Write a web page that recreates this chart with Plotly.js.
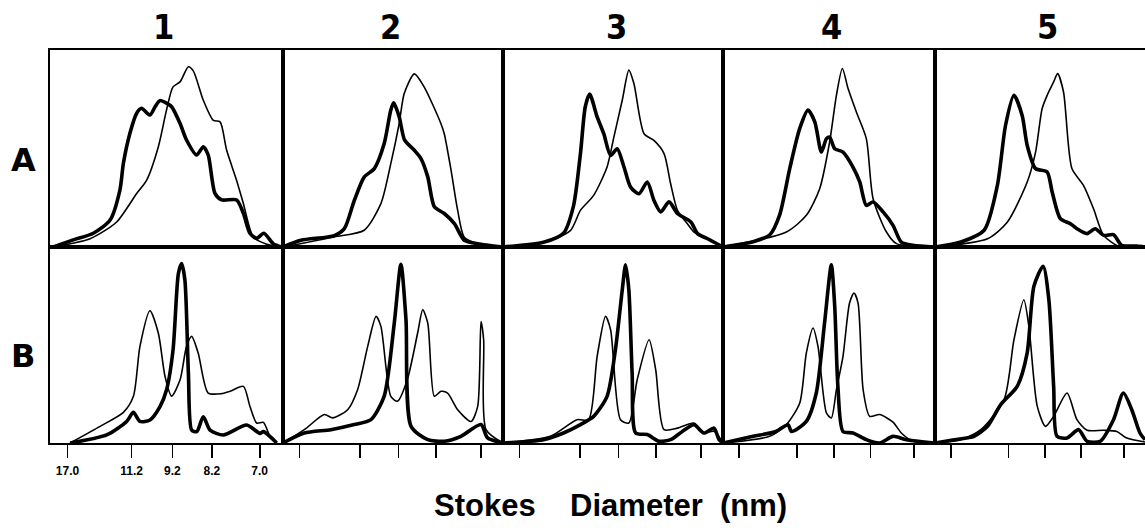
<!DOCTYPE html>
<html>
<head>
<meta charset="utf-8">
<script src="https://cdn.plot.ly/plotly-3.0.1.min.js"></script>
<style>
  html, body { margin: 0; padding: 0; background: #fff; }
  #chart { width: 1145px; height: 528px; }
</style>
</head>
<body>
<div id="chart"></div>
<script>
// Column and row labels
const columnLabels = ['1', '2', '3', '4', '5'];
const rowLabels = ['A', 'B'];
// Stokes diameter tick labels (nm), shown under the first panel; positions are migration distance (% of panel width)
const tickLabels = ['17.0', '11.2', '9.2', '8.2', '7.0'];
const tickPositions = [7.5, 35, 52.5, 69.5, 90];
const xTitle = 'Stokes\u00A0\u00A0\u00A0\u00A0Diameter\u00A0\u00A0(nm)';

// ---- Row A ----
const A1_thick_x = [1.4, 10, 18.6, 25.8, 30, 31.5, 34.3, 37.2, 39.3, 42.9, 45.1, 47.2, 50, 52.2, 55.8, 58.6, 62.9, 65.8, 67.9, 70.8, 73.7, 80.1, 83, 85.8, 88.7, 91.8, 95.8, 99.4];
const A1_thick_y = [0, 3.6, 7, 13.7, 28.9, 42.5, 57.7, 67.9, 70.4, 67, 71.2, 74.3, 73, 71.2, 62.8, 54.3, 46.7, 50.9, 46.7, 27.2, 23.9, 23.9, 17.1, 7, 4.4, 7, 1.7, 0];
const A1_thin_x = [1.4, 17.2, 28.6, 37.2, 41.5, 46.5, 50, 52.8, 55.8, 59.4, 61.5, 65.8, 70.1, 73, 75.8, 80.1, 83, 87.3, 93, 99.4];
const A1_thin_y = [0, 4.2, 12.7, 27.2, 34, 50.9, 69.5, 81.3, 83.8, 91.5, 89.4, 74.5, 64.3, 63.5, 49.2, 33.8, 22, 5, 1.4, 0];

const A2_thick_x = [0, 8.2, 23.3, 27.9, 32.4, 36.9, 41.5, 46, 49, 50.3, 52.8, 55.3, 59.7, 62.7, 65.8, 68.8, 73.3, 77.9, 82.4, 88.5, 100];
const A2_thick_y = [0, 3.4, 5.8, 9.3, 23.6, 35.5, 39.8, 52.5, 69.5, 73.2, 66.2, 54.2, 49.1, 44.9, 35.6, 20.4, 17, 11.9, 3.4, 1.7, 0];
const A2_thin_x = [0, 23.3, 36.9, 44.5, 49, 52.8, 55.1, 59.7, 64.2, 71.8, 73.3, 76.4, 79.4, 82.4, 88.5, 100];
const A2_thin_y = [0, 5.1, 8.5, 22, 42.3, 62.6, 77.9, 87.9, 81.2, 62.6, 57.5, 38.9, 18.6, 5, 1.7, 0];

const A3_thick_x = [0, 18.4, 27.5, 32, 35.2, 37.4, 39.4, 42.8, 45.8, 48.9, 51.9, 55, 58, 61.8, 65.6, 68.6, 71.7, 75.5, 79.3, 85.4, 88.4, 93, 100];
const A3_thick_y = [0, 2.4, 7, 20.6, 47.4, 71.2, 77.6, 66, 57.5, 46.5, 49.9, 40.6, 30.4, 27, 33, 23.7, 17.8, 22.9, 17, 12.7, 6.8, 4.2, 0];
const A3_thin_x = [0, 18.4, 30.6, 35.2, 41.2, 47.3, 50.4, 54.2, 57.2, 59.5, 64.1, 68.6, 73.2, 76.2, 79.3, 83.8, 86.8, 93, 100];
const A3_thin_y = [0, 2.4, 8.3, 18.6, 26.2, 40.6, 55.8, 74.5, 89.8, 83, 57.5, 54.1, 47.4, 32.1, 18.6, 11.8, 7.6, 4.2, 0];

const A4_thick_x = [0, 14.2, 22, 26.7, 31.5, 36.2, 40.1, 43.3, 46.4, 48.8, 50.3, 52.7, 56.6, 61.3, 64.5, 67.6, 70.8, 75.5, 80.2, 84.1, 89.6, 100];
const A4_thick_y = [0, 2.7, 6.1, 16.2, 39.9, 60.2, 69.5, 63.5, 48.2, 55, 55.8, 49.9, 48.2, 40.6, 33, 21.1, 22.8, 17.8, 11, 2.5, 0.9, 0];
const A4_thin_x = [0, 29.9, 39.3, 45.6, 50.3, 53.5, 56.3, 59, 62.9, 67.6, 70.8, 77.1, 81.8, 100];
const A4_thin_y = [0, 7.6, 16.1, 29.6, 53.3, 77, 90.6, 80.4, 68.5, 55, 24.5, 7.6, 1.7, 0];

const A5_thick_x = [0, 12.3, 23.4, 29.7, 33.6, 37.6, 41.5, 43.9, 47.9, 53.4, 55.8, 59.7, 64.5, 67.6, 72.4, 76.3, 80.3, 85, 88.9, 96.1, 100];
const A5_thick_y = [0, 2.5, 8.5, 31.3, 61.8, 77, 66.8, 51.6, 39.8, 38.1, 27.9, 14.4, 11.8, 9.3, 6.8, 9.3, 5.9, 6.3, 0.8, 0.5, 0];
const A5_thin_x = [0, 25, 34.5, 43.9, 47.9, 51, 53.4, 56.5, 58.4, 61.2, 65.2, 70.7, 75.5, 80.3, 88.2, 100];
const A5_thin_y = [0, 4.2, 12.7, 33, 48.2, 70.2, 77, 83.8, 88, 78.7, 39.8, 31.3, 19.4, 5.9, 0, 0];

// ---- Row B ----
const B1_thick_x = [8.6, 24.3, 32.9, 35.8, 38.6, 42.9, 47.2, 50, 52.8, 55.1, 56.5, 57.9, 59.4, 60.8, 63, 65.8, 68.7, 74.4, 84.4, 90.1, 91.6, 97.3];
const B1_thick_y = [0, 4.1, 11, 15.6, 11, 11.7, 18.5, 27, 47.4, 86.4, 91.5, 83, 35.5, 6.6, 5.8, 13.4, 6.6, 4.1, 9.2, 4.9, 5.8, 0];
const B1_thin_x = [8.6, 21.5, 31.5, 35.8, 38.6, 42.9, 46.5, 49.4, 52.2, 55.8, 58.6, 60.8, 63.6, 67.9, 73.6, 77.3, 83, 85.8, 88.7, 91.6, 94.4, 97.3];
const B1_thin_y = [0, 8.5, 15.6, 23.8, 49.3, 67.5, 56, 33.8, 23.9, 32.1, 49.3, 54.4, 45.9, 25.5, 25.2, 26.4, 28.9, 18.7, 10.2, 10.5, 3.4, 0];

const B2_thick_x = [0, 9.7, 21.8, 32.4, 40, 46, 50.6, 53.6, 55.9, 58.2, 65.8, 73.3, 80.9, 90, 93, 100];
const B2_thick_y = [0, 5.1, 6.8, 9.4, 11.9, 23.9, 61.4, 91.2, 63, 8.5, 1.7, 0.9, 3.4, 9.4, 2.6, 0];
const B2_thin_x = [0, 9.7, 18.8, 22.6, 29.4, 33.9, 38.5, 42.3, 44.5, 49, 52, 56.5, 61.2, 63.5, 65.8, 68.8, 71.8, 74.8, 79.4, 85.5, 88.5, 90, 91.2, 92.3, 100];
const B2_thin_y = [0, 6.8, 14.5, 12.8, 17, 27.2, 49.3, 64.6, 59.5, 23.8, 21.3, 32.3, 56.1, 68, 61.2, 23.8, 26.4, 25.5, 17, 11, 18.7, 62, 52.7, 6.8, 0];

const B3_thick_x = [0, 18.4, 27.5, 35.2, 41.2, 47.3, 51.1, 54.2, 55.7, 57.2, 58.7, 60.3, 65.6, 70.9, 76.2, 81.5, 86.8, 91.3, 95.9, 98.2, 100];
const B3_thick_y = [0, 1.7, 5.1, 9.4, 13.6, 23.8, 47.6, 78.1, 90.9, 78.1, 35.6, 5.1, 4.3, 0.9, 1.7, 5.9, 9.3, 5.1, 7.6, 1.7, 0];
const B3_thin_x = [0, 21.5, 33.6, 38.9, 42.8, 46.6, 48.9, 53.4, 57.2, 61, 66.4, 69.4, 73.2, 79.3, 86.8, 91.3, 95.9, 100];
const B3_thin_y = [0, 3.4, 11.9, 11.9, 44.2, 64.6, 57.8, 11.9, 10.2, 32.3, 52.7, 37.4, 6.8, 7.6, 10.2, 5.1, 6, 0];

const B4_thick_x = [0, 14.2, 25, 30.7, 32.3, 39.3, 44, 47.9, 51.1, 52.7, 54.2, 56.6, 61.3, 67.6, 73.9, 80.2, 86.5, 100];
const B4_thick_y = [0, 3.4, 5.9, 9.3, 5.9, 11, 25.5, 61.2, 90.9, 69.7, 28.9, 5.9, 5.1, 1.7, 0, 3.4, 1.7, 0];
const B4_thin_x = [0, 22, 29.9, 36.2, 39.3, 42.5, 44.8, 48.8, 51.1, 53.5, 56.6, 59.7, 61.8, 63.7, 66.1, 69.2, 73.9, 80.2, 84.1, 89.6, 100];
const B4_thin_y = [0, 3.4, 9.4, 20.4, 45.9, 58.7, 49.3, 15.3, 12.8, 27.2, 44.2, 71.4, 76.5, 71.4, 27.2, 13.6, 14.5, 10.6, 5.1, 0.9, 0];

const B5_thick_x = [0, 9.2, 18.6, 25, 31.3, 39.2, 43.9, 47.1, 51.5, 54.2, 56.5, 58.1, 62.9, 68.4, 72.4, 78.7, 85, 89.7, 93.7, 97.6, 100];
const B5_thick_y = [0, 1.7, 3.4, 8.5, 19.6, 29, 46, 80, 90.2, 73.3, 28.9, 3.4, 2.6, 6.8, 0.9, 0.9, 11.9, 25.5, 17, 5.1, 1.7];
const B5_thin_x = [0, 12.3, 21.8, 32.9, 37.6, 42.3, 44.7, 48.7, 52.6, 56.5, 62.9, 67.6, 72.4, 80.3, 86.6, 91.3, 100];
const B5_thin_y = [0, 1.7, 6.8, 22.1, 52.7, 73.1, 59.5, 18.7, 8.5, 13.6, 25.5, 11.9, 6.5, 6.5, 5.9, 2.5, 0.5];

const panels = [
  [[A1_thick_x, A1_thick_y, A1_thin_x, A1_thin_y], [A2_thick_x, A2_thick_y, A2_thin_x, A2_thin_y],
   [A3_thick_x, A3_thick_y, A3_thin_x, A3_thin_y], [A4_thick_x, A4_thick_y, A4_thin_x, A4_thin_y],
   [A5_thick_x, A5_thick_y, A5_thin_x, A5_thin_y]],
  [[B1_thick_x, B1_thick_y, B1_thin_x, B1_thin_y], [B2_thick_x, B2_thick_y, B2_thin_x, B2_thin_y],
   [B3_thick_x, B3_thick_y, B3_thin_x, B3_thin_y], [B4_thick_x, B4_thick_y, B4_thin_x, B4_thin_y],
   [B5_thick_x, B5_thick_y, B5_thin_x, B5_thin_y]]
];

// ---- layout geometry (pixels) ----
const W = 1145, H = 528;
const colEdges = [50, 283, 503, 723, 935, 1145];
const rowEdges = [50, 247, 443];

const data = [];
const layout = {
  width: W, height: H,
  margin: {l: 0, r: 0, t: 0, b: 0},
  paper_bgcolor: '#fff', plot_bgcolor: 'rgba(0,0,0,0)',
  showlegend: false,
  annotations: [],
};

const condensed = 'Liberation Sans Narrow, DejaVu Sans Condensed, Liberation Sans, sans-serif';

for (let r = 0; r < 2; r++) {
  for (let c = 0; c < 5; c++) {
    const n = r * 5 + c + 1;
    const xa = n === 1 ? 'x' : 'x' + n;
    const ya = n === 1 ? 'y' : 'y' + n;
    const [tx, ty, hx, hy] = panels[r][c];
    data.push({x: hx, y: hy, xaxis: xa, yaxis: ya, type: 'scatter', mode: 'lines',
      line: {color: '#000', width: 1.6, shape: 'spline', smoothing: 0.7}, hoverinfo: 'skip'});
    data.push({x: tx, y: ty, xaxis: xa, yaxis: ya, type: 'scatter', mode: 'lines',
      line: {color: '#000', width: 3.6, shape: 'spline', smoothing: 0.7}, hoverinfo: 'skip'});
    const bottom = r === 1;
    layout[n === 1 ? 'xaxis' : 'xaxis' + n] = {
      domain: [colEdges[c] / W, colEdges[c + 1] / W],
      anchor: ya, range: [0, 100],
      showgrid: false, zeroline: false,
      showline: true, mirror: true, linecolor: '#000', linewidth: 2,
      ticks: bottom ? 'outside' : '', ticklen: 13, tickwidth: 1.6, tickcolor: '#000',
      tickmode: 'array', tickvals: bottom ? tickPositions : [],
      ticktext: bottom ? (c === 0 ? tickLabels.map(t => '<b>' + t + '</b>') : tickLabels.map(() => '')) : [],
      showticklabels: bottom && c === 0,
      ticklabelstandoff: 3,
      tickfont: {family: 'Liberation Sans, Arial, sans-serif', size: 12, color: '#000'},
      fixedrange: true,
    };
    layout[n === 1 ? 'yaxis' : 'yaxis' + n] = {
      domain: [1 - rowEdges[r + 1] / H, 1 - rowEdges[r] / H],
      anchor: xa, range: [0, 100],
      showgrid: false, zeroline: false, showticklabels: false,
      showline: true, mirror: true, linecolor: '#000', linewidth: 2,
      fixedrange: true,
    };
  }
}

// Column headers
const colCenters = [163, 391, 616, 831, 1047];
columnLabels.forEach((t, i) => {
  layout.annotations.push({text: '<b>' + t + '</b>', xref: 'paper', yref: 'paper',
    x: colCenters[i] / W, y: 1 - 27 / H, xanchor: 'center', yanchor: 'middle', showarrow: false,
    font: {family: condensed, size: 34, color: '#000'}});
});
// Row labels
const rowCenters = [160, 356];
rowLabels.forEach((t, i) => {
  layout.annotations.push({text: '<b>' + t + '</b>', xref: 'paper', yref: 'paper',
    x: 23 / W, y: 1 - rowCenters[i] / H, xanchor: 'center', yanchor: 'middle', showarrow: false,
    font: {family: 'DejaVu Sans, sans-serif', size: 32, color: '#000'}});
});
// X title
layout.annotations.push({text: '<b>' + xTitle + '</b>', xref: 'paper', yref: 'paper',
  x: 610 / W, y: 1 - 505 / H, xanchor: 'center', yanchor: 'middle', showarrow: false,
  font: {family: 'Liberation Sans, Arial, sans-serif', size: 31, color: '#000'}});

Plotly.newPlot('chart', data, layout, {staticPlot: true, displayModeBar: false});
</script>
</body>
</html>
